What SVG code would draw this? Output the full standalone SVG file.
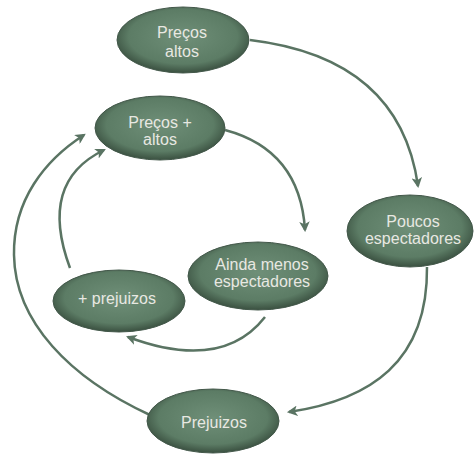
<svg xmlns="http://www.w3.org/2000/svg" width="476" height="455" viewBox="0 0 476 455">
<defs>
<radialGradient id="g" cx="50%" cy="45%" r="55%">
<stop offset="0" stop-color="#6f8f78"/>
<stop offset="0.75" stop-color="#5c7c65"/>
<stop offset="1" stop-color="#3a5040"/>
</radialGradient>
<marker id="ah" viewBox="0 0 10 10" refX="8" refY="5" markerWidth="4.2" markerHeight="4.2" orient="auto" markerUnits="strokeWidth">
<path d="M0,0 L10,5 L0,10 L2.5,5 Z" fill="#5a7463"/>
</marker>
<style>
.n{fill:url(#g);stroke:#43584a;stroke-width:1}
.t{font-family:"Liberation Sans",Arial,sans-serif;font-size:16px;fill:#e8e8e2;text-anchor:middle}
.c{fill:none;stroke:#5a7463;stroke-width:2.5;marker-end:url(#ah)}
</style>
</defs>
<rect width="476" height="455" fill="#ffffff"/>
<g id="connectors">
<path class="c" d="M250,40 Q400,58 418,186"/>
<path class="c" d="M225,130 Q300,150 305,230"/>
<path class="c" d="M70,268 Q38,182 104,150"/>
<path class="c" d="M150,415 C70,378 15,322 14,255 C13,200 45,160 84,135"/>
<path class="c" d="M265,317 Q222,372 128,337"/>
<path class="c" d="M427,267 C428,362 370,400 289,412"/>
</g>
<g id="n1">
<ellipse class="n" cx="183" cy="40" rx="66" ry="33"/>
<text class="t" x="182" y="38">Preços</text>
<text class="t" x="182" y="57">altos</text>
</g>
<g id="n2">
<ellipse class="n" cx="160" cy="128" rx="65" ry="32"/>
<text class="t" x="160" y="128">Preços +</text>
<text class="t" x="160" y="145">altos</text>
</g>
<g id="n3">
<ellipse class="n" cx="410" cy="231" rx="63" ry="36"/>
<text class="t" x="413" y="227">Poucos</text>
<text class="t" x="413" y="244">espectadores</text>
</g>
<g id="n4">
<ellipse class="n" cx="258" cy="276" rx="70" ry="34"/>
<text class="t" x="262" y="270">Ainda menos</text>
<text class="t" x="262" y="287">espectadores</text>
</g>
<g id="n5">
<ellipse class="n" cx="119" cy="301" rx="66" ry="31"/>
<text class="t" x="117" y="304">+ prejuizos</text>
</g>
<g id="n6">
<ellipse class="n" cx="213" cy="421" rx="66" ry="32"/>
<text class="t" x="214" y="428">Prejuizos</text>
</g>
</svg>
